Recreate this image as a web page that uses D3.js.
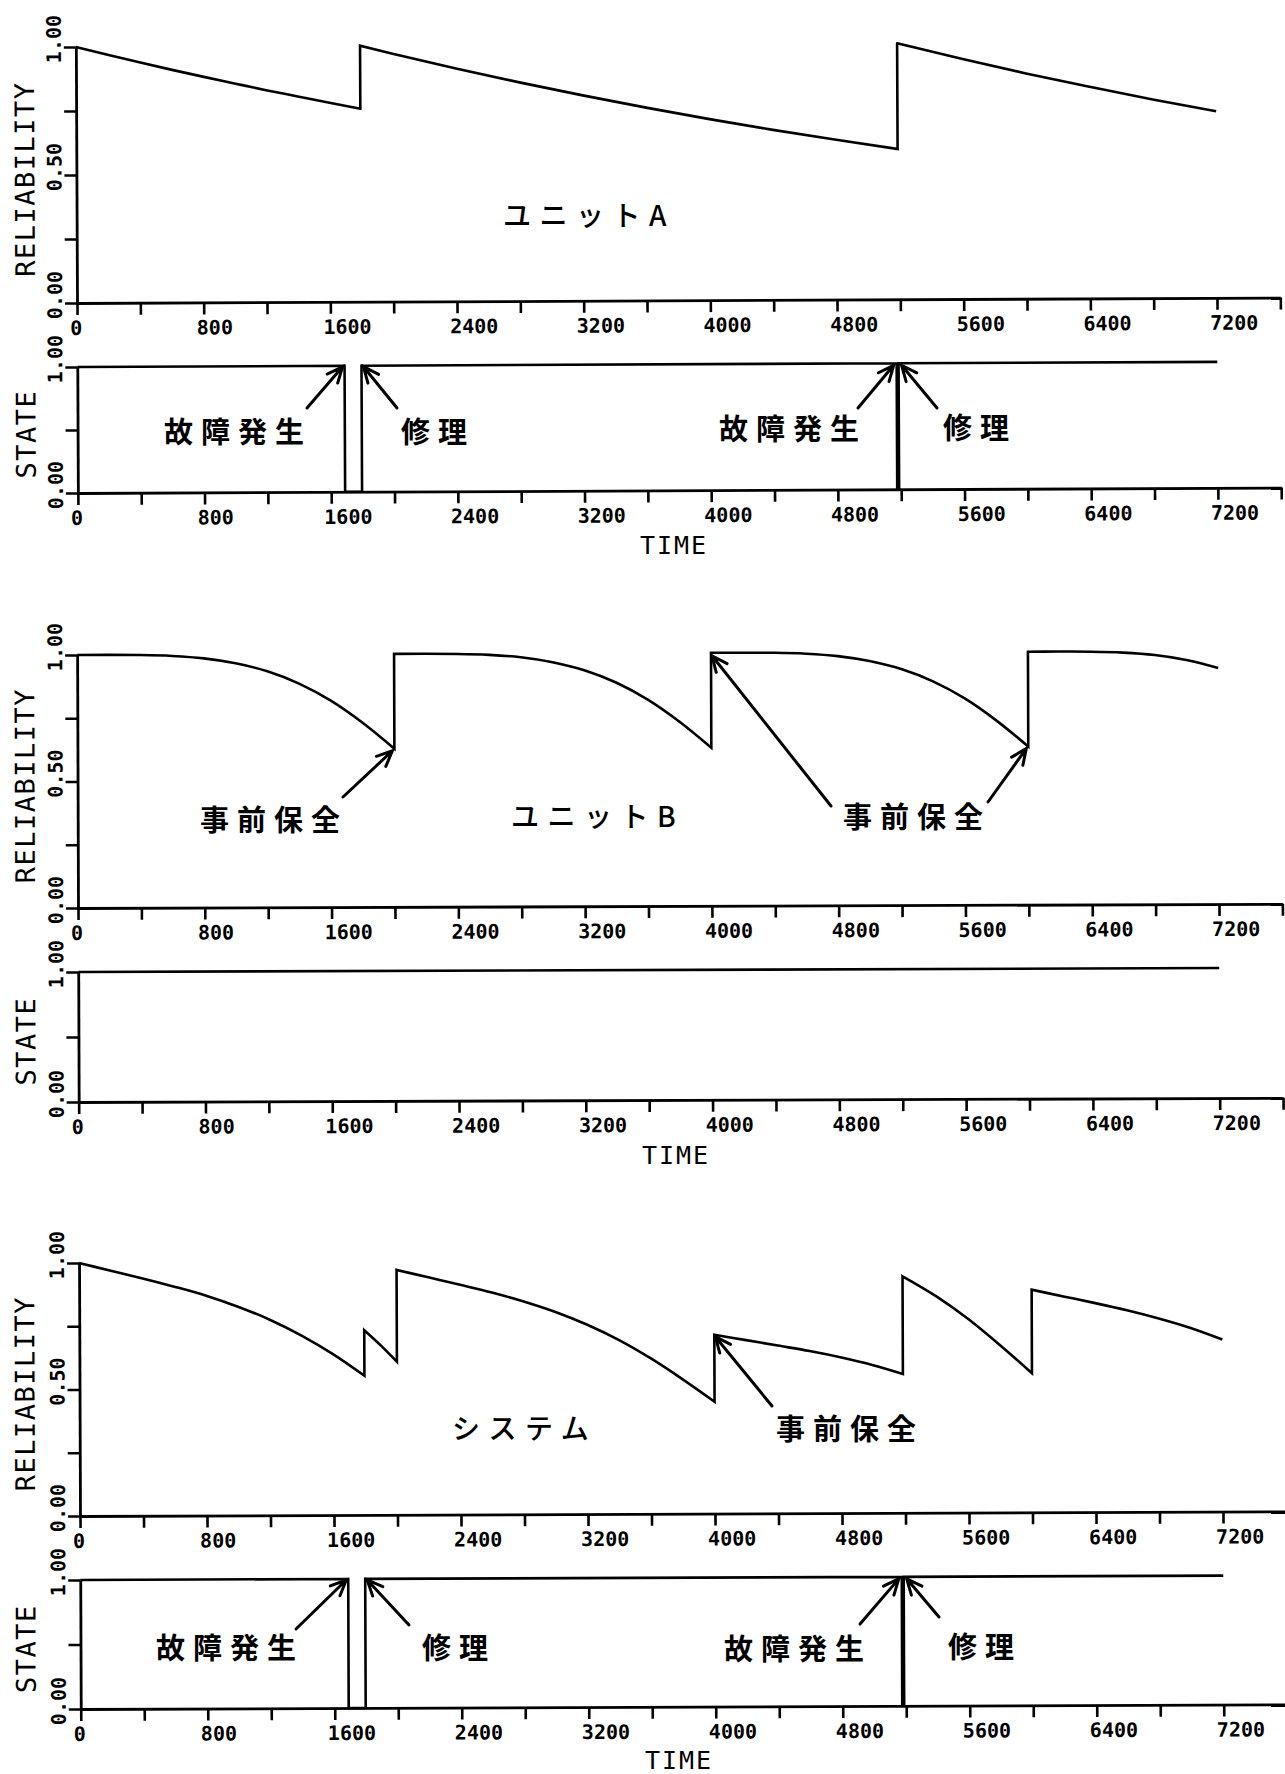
<!DOCTYPE html>
<html>
<head>
<meta charset="utf-8">
<script src="https://cdn.jsdelivr.net/npm/d3@7/dist/d3.min.js"></script>
<style>
  html, body { margin: 0; padding: 0; background: #fff; }
  svg { display: block; }
</style>
</head>
<body>
<svg id="chart" width="1285" height="1774"></svg>
<script>
// ---------------- data ----------------
const timeTicks = [0, 400, 800, 1200, 1600, 2000, 2400, 2800, 3200, 3600, 4000,
                   4400, 4800, 5200, 5600, 6000, 6400, 6800, 7200, 7600];
const timeTickLabels = ["0", "800", "1600", "2400", "3200", "4000", "4800", "5600", "6400", "7200"];
const relTicks = [0, 0.25, 0.5, 0.75, 1];
const relTickLabels = ["0.00", "0.50", "1.00"];
const stateTicks = [0, 0.5, 1];
const stateTickLabels = ["0.00", "1.00"];

// Unit A: reliability decays, reset to 1 at each repair
const unitATime = [0, 200, 400, 600, 800, 1000, 1200, 1400, 1600, 1795,
                   1795, 2000, 2400, 2800, 3200, 3600, 4000, 4400, 4800, 5187,
                   5187, 5600, 6000, 6400, 6800, 7200];
const unitARel  = [1.000, 0.969, 0.939, 0.910, 0.882, 0.855, 0.828, 0.803, 0.778, 0.754,
                   1.000, 0.968, 0.909, 0.854, 0.802, 0.753, 0.707, 0.664, 0.624, 0.587,
                   1.000, 0.937, 0.880, 0.827, 0.776, 0.729];
const unitAStateTime = [0, 1688, 1688, 1795, 1795, 5175, 5175, 5187, 5187, 7200];
const unitAState     = [1, 1, 0, 0, 1, 1, 0, 0, 1, 1];

// Unit B: preventive maintenance every 2000 hours
const unitBTime = [0, 200, 400, 600, 800, 1000, 1200, 1400, 1600, 1800, 2000,
                   2000, 2200, 2400, 2600, 2800, 3000, 3200, 3400, 3600, 3800, 4000,
                   4000, 4200, 4400, 4600, 4800, 5000, 5200, 5400, 5600, 5800, 6000,
                   6000, 6200, 6400, 6600, 6800, 7000, 7200];
const unitBRel  = [1.000, 1.000, 0.999, 0.995, 0.985, 0.965, 0.933, 0.884, 0.816, 0.728, 0.625,
                   1.000, 1.000, 0.999, 0.995, 0.985, 0.965, 0.933, 0.884, 0.816, 0.728, 0.625,
                   1.000, 1.000, 0.999, 0.995, 0.985, 0.965, 0.933, 0.884, 0.816, 0.728, 0.625,
                   1.000, 1.000, 0.999, 0.995, 0.985, 0.965, 0.933];
const unitBStateTime = [0, 7200];
const unitBState     = [1, 1];

// System (A and B in series)
const sysTime = [0, 200, 400, 600, 800, 1000, 1200, 1400, 1600, 1795,
                 1795, 1900, 2000,
                 2000, 2200, 2400, 2600, 2800, 3000, 3200, 3400, 3600, 3800, 4000,
                 4000, 4200, 4400, 4600, 4800, 5000, 5187,
                 5187, 5400, 5600, 5800, 6000,
                 6000, 6200, 6400, 6600, 6800, 7000, 7200];
const sysRel  = [1.000, 0.969, 0.938, 0.905, 0.869, 0.825, 0.773, 0.710, 0.635, 0.550,
                 0.730, 0.669, 0.605,
                 0.968, 0.938, 0.908, 0.877, 0.841, 0.799, 0.748, 0.687, 0.614, 0.531, 0.442,
                 0.707, 0.685, 0.663, 0.641, 0.615, 0.584, 0.549,
                 0.935, 0.855, 0.765, 0.661, 0.550,
                 0.880, 0.853, 0.826, 0.797, 0.764, 0.726, 0.680];
const sysStateTime = [0, 1688, 1688, 1795, 1795, 5175, 5175, 5187, 5187, 7200];
const sysState     = [1, 1, 0, 0, 1, 1, 0, 0, 1, 1];

// ---------------- layout ----------------
const panels = [
  { x0: 77, x7200: 1217, rel: [303, 47],   state: [493, 367],   timeLabel: [674, 545],  tilt: -0.26,
    relT: unitATime, relV: unitARel, stT: unitAStateTime, stV: unitAState },
  { x0: 78, x7200: 1219, rel: [908, 655],  state: [1102, 972],  timeLabel: [676, 1155], tilt: -0.2,
    relT: unitBTime, relV: unitBRel, stT: unitBStateTime, stV: unitBState },
  { x0: 80, x7200: 1223, rel: [1516, 1263], state: [1709, 1580], timeLabel: [679, 1760], tilt: -0.22,
    relT: sysTime, relV: sysRel, stT: sysStateTime, stV: sysState }
];

// annotation text and arrows (arrow heads sit on data points)
const notes = [
  { p: 0, part: "rel", text: "ユニットA", x: 503, y: 214, kana: true, arrows: [] },
  { p: 0, part: "state", text: "故障発生", x: 164, y: 430, arrows: [{ from: [307, 408], t: 1688, v: 1, dx: -2, dy: 1 }] },
  { p: 0, part: "state", text: "修理", x: 401, y: 430, arrows: [{ from: [397, 408], t: 1795, v: 1, dx: 2, dy: 1 }] },
  { p: 0, part: "state", text: "故障発生", x: 719, y: 427, arrows: [{ from: [858, 408], t: 5175, v: 1, dx: -3, dy: 2 }] },
  { p: 0, part: "state", text: "修理", x: 943, y: 426, arrows: [{ from: [937, 408], t: 5187, v: 1, dx: 3, dy: 2 }] },

  { p: 1, part: "rel", text: "事前保全", x: 200, y: 818, arrows: [{ from: [343, 797], t: 2000, v: 0.625, dx: -2, dy: 2 }] },
  { p: 1, part: "rel", text: "ユニットB", x: 511, y: 815, kana: true, arrows: [] },
  { p: 1, part: "rel", text: "事前保全", x: 843, y: 815, arrows: [
      { from: [831, 806], t: 4000, v: 1.0, dx: 1, dy: 3 },
      { from: [988, 802], t: 6000, v: 0.625, dx: -2, dy: 2 } ] },

  { p: 2, part: "rel", text: "システム", x: 452, y: 1427, kana: true, arrows: [] },
  { p: 2, part: "rel", text: "事前保全", x: 776, y: 1427, arrows: [{ from: [772, 1406], t: 4000, v: 0.707, dx: 1, dy: 2 }] },
  { p: 2, part: "state", text: "故障発生", x: 156, y: 1646, arrows: [{ from: [296, 1629], t: 1688, v: 1, dx: -2, dy: 1 }] },
  { p: 2, part: "state", text: "修理", x: 422, y: 1646, arrows: [{ from: [409, 1625], t: 1795, v: 1, dx: 2, dy: 1 }] },
  { p: 2, part: "state", text: "故障発生", x: 724, y: 1647, arrows: [{ from: [860, 1624], t: 5175, v: 1, dx: -3, dy: 2 }] },
  { p: 2, part: "state", text: "修理", x: 948, y: 1645, arrows: [{ from: [939, 1617], t: 5187, v: 1, dx: 3, dy: 2 }] }
];

// ---------------- drawing ----------------
const svg = d3.select("#chart");
svg.append("rect").attr("width", 1285).attr("height", 1774).attr("fill", "#fff");

const INK = "#000";
const monoFont = "'DejaVu Sans Mono', 'Liberation Mono', monospace";
const cjkFont = "'Noto Sans CJK JP', 'Noto Sans CJK SC', sans-serif";

// smooth each run between jumps, join runs with vertical steps
function seriesPath(x, y, times, values) {
  const runs = [];
  let cur = [];
  times.forEach((t, i) => {
    if (i > 0 && t === times[i - 1]) { runs.push(cur); cur = []; }
    cur.push([t, values[i]]);
  });
  runs.push(cur);
  const line = d3.line().x(d => x(d[0])).y(d => y(d[1])).curve(d3.curveMonotoneX);
  return runs.map((r, i) => {
    const s = r.length > 1 ? line(r) : `M${x(r[0][0])},${y(r[0][1])}`;
    return i === 0 ? s : "L" + s.slice(1);
  }).join("");
}

function drawPart(g, x, y, yTicks, yLabels, title, times, values) {
  // x axis
  const xAxis = d3.axisBottom(x).tickValues(timeTicks).tickSize(12).tickSizeOuter(0).tickFormat("");
  const xa = g.append("g").attr("transform", `translate(0,${y.range()[0]})`).call(xAxis);
  xa.select(".domain").attr("stroke", INK).attr("stroke-width", 2.8);
  xa.selectAll(".tick line").attr("stroke", INK).attr("stroke-width", 2.6);
  g.append("g").selectAll("text").data(timeTickLabels).join("text")
    .attr("x", d => x(+d) - 7)
    .attr("y", y.range()[0] + 25)
    .attr("dominant-baseline", "central")
    .attr("font-family", monoFont).attr("font-weight", "bold").attr("font-size", 20)
    .attr("fill", INK)
    .text(d => d);

  // y axis
  const yAxis = d3.axisLeft(y).tickValues(yTicks).tickSize(12).tickSizeOuter(0).tickFormat("");
  const ya = g.append("g").attr("transform", `translate(${x(0)},0)`).call(yAxis);
  ya.select(".domain").attr("stroke", INK).attr("stroke-width", 2.8);
  ya.selectAll(".tick line").attr("stroke", INK).attr("stroke-width", 2.6);
  g.append("g").selectAll("text").data(yLabels).join("text")
    .attr("transform", d => `translate(${x(0) - 15},${y(+d) - 8}) rotate(-90)`)
    .attr("text-anchor", "middle")
    .attr("font-family", monoFont).attr("font-weight", "bold").attr("font-size", 20)
    .attr("fill", INK)
    .text(d => d);

  // axis title
  const mid = (y.range()[0] + y.range()[1]) / 2;
  g.append("text")
    .attr("transform", `translate(35,${mid + 4}) rotate(-90)`)
    .attr("text-anchor", "middle")
    .attr("font-family", monoFont).attr("font-size", 27)
    .attr("letter-spacing", 1.5)
    .attr("fill", INK)
    .text(title);

  // series
  g.append("path")
    .attr("d", seriesPath(x, y, times, values))
    .attr("fill", "none").attr("stroke", INK)
    .attr("stroke-width", 2.6).attr("stroke-linejoin", "miter");
}

function arrow(g, x1, y1, x2, y2) {
  const a = Math.atan2(y2 - y1, x2 - x1);
  const L = 17, phi = 0.42;
  const path = d3.path();
  path.moveTo(x1, y1); path.lineTo(x2, y2);
  path.moveTo(x2 - L * Math.cos(a - phi), y2 - L * Math.sin(a - phi));
  path.lineTo(x2, y2);
  path.lineTo(x2 - L * Math.cos(a + phi), y2 - L * Math.sin(a + phi));
  g.append("path").attr("d", path.toString())
    .attr("fill", "none").attr("stroke", INK).attr("stroke-width", 3)
    .attr("stroke-linecap", "round").attr("stroke-linejoin", "miter");
}

const scales = panels.map(P => {
  const k = (P.x7200 - P.x0) / 7200;
  const x = d3.scaleLinear().domain([0, 7600]).range([P.x0, P.x0 + 7600 * k]);
  const yRel = d3.scaleLinear().domain([0, 1]).range(P.rel);
  const yState = d3.scaleLinear().domain([0, 1]).range(P.state);
  // each panel is turned slightly about its lower-left origin
  const cx = P.x0, cy = P.rel[0], th = P.tilt * Math.PI / 180;
  const turn = (px, py) => {
    const dx = px - cx, dy = py - cy;
    return [cx + dx * Math.cos(th) - dy * Math.sin(th), cy + dx * Math.sin(th) + dy * Math.cos(th)];
  };
  return { x, yRel, yState, turn, transform: `rotate(${P.tilt},${cx},${cy})` };
});

panels.forEach((P, i) => {
  const { x, yRel, yState, transform } = scales[i];
  const g = svg.append("g").attr("transform", transform);
  drawPart(g, x, yRel, relTicks, relTickLabels, "RELIABILITY", P.relT, P.relV);
  drawPart(g, x, yState, stateTicks, stateTickLabels, "STATE", P.stT, P.stV);
  svg.append("text")
    .attr("x", P.timeLabel[0]).attr("y", P.timeLabel[1])
    .attr("text-anchor", "middle").attr("dominant-baseline", "central")
    .attr("font-family", monoFont).attr("font-size", 25)
    .attr("letter-spacing", 2)
    .attr("fill", INK)
    .text("TIME");
});

const ng = svg.append("g");
notes.forEach(n => {
  const S = scales[n.p];
  const y = n.part === "rel" ? S.yRel : S.yState;
  ng.append("text")
    .attr("x", n.x).attr("y", n.y)
    .attr("dominant-baseline", "central")
    .attr("font-family", cjkFont)
    .attr("font-weight", n.kana ? 500 : 700)
    .attr("font-size", n.kana ? 28 : 29)
    .attr("letter-spacing", n.kana ? 8.5 : 8)
    .attr("fill", INK)
    .text(n.text);
  n.arrows.forEach(a => {
    const [hx, hy] = S.turn(S.x(a.t) + a.dx, y(a.v) + a.dy);
    arrow(ng, a.from[0], a.from[1], hx, hy);
  });
});
</script>
</body>
</html>
